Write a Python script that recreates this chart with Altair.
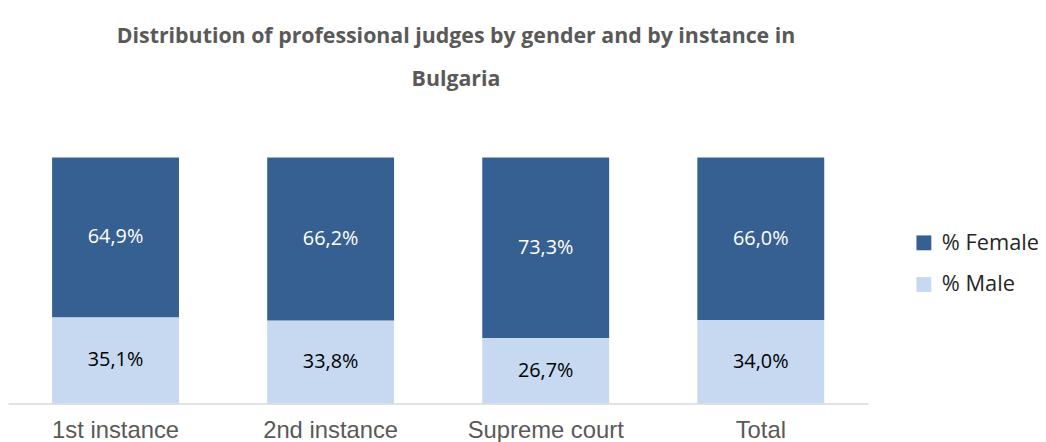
import altair as alt
import pandas as pd

categories = ["1st instance", "2nd instance", "Supreme court", "Total"]
female = [64.9, 66.2, 73.3, 66.0]
male = [35.1, 33.8, 26.7, 34.0]
series = ["% Female", "% Male"]
colors = ["#376092", "#C6D9F1"]

rows = []
for i, c in enumerate(categories):
    rows.append({"cat": c, "series": "% Male", "value": male[i], "ord": 0,
                 "label": f"{male[i]:.1f}%".replace(".", ",")})
    rows.append({"cat": c, "series": "% Female", "value": female[i], "ord": 1,
                 "label": f"{female[i]:.1f}%".replace(".", ",")})
df = pd.DataFrame(rows)

base = alt.Chart(df).transform_stack(
    stack="value", groupby=["cat"], as_=["y0", "y1"],
    sort=[alt.SortField("ord", order="ascending")]
).transform_calculate(mid="(datum.y0 + datum.y1) / 2")

x = alt.X("cat:N", sort=categories, title=None,
          scale=alt.Scale(paddingInner=0.41, paddingOuter=0.205),
          axis=alt.Axis(labelAngle=0, ticks=False, domainColor="#D9D9D9", domainWidth=1.5,
                        labelFont="Liberation Sans", labelFontSize=24, labelColor="#595959",
                        labelPadding=15, grid=False))

bars = base.mark_bar().encode(
    x=x,
    y=alt.Y("y0:Q", scale=alt.Scale(domain=[0, 100]), axis=None),
    y2="y1:Q",
    color=alt.Color("series:N", scale=alt.Scale(domain=series, range=colors),
                    legend=alt.Legend(title=None, orient="none", legendX=912, legendY=75,
                                      symbolType="square", symbolSize=225, symbolStrokeWidth=0,
                                      labelFontSize=22, labelColor="#262626", labelFont="Open Sans",
                                      rowPadding=20, labelOffset=7)),
)

texts = base.mark_text(fontSize=20, font="Open Sans").encode(
    x=alt.X("cat:N", sort=categories),
    y=alt.Y("mid:Q", scale=alt.Scale(domain=[0, 100])),
    text="label:N",
    color=alt.Color("series:N", scale=alt.Scale(domain=series, range=["#FFFFFF", "#000000"]), legend=None),
)

chart = alt.layer(bars, texts).resolve_scale(color="independent").properties(
    width=867, height=248,
    autosize=alt.AutoSizeParams(type="none"),
    padding={"left": 0, "top": 149, "right": 171, "bottom": 37},
    title=alt.TitleParams(
        ["Distribution of professional judges by gender and by instance in", "Bulgaria"],
        anchor="middle", dx=18, offset=68, fontSize=21.5, font="Open Sans", fontWeight="bold",
        color="#595959", lineHeight=43),
).configure_view(stroke=None)

chart.save("out.html", embed_options={"renderer": "svg", "actions": False})
